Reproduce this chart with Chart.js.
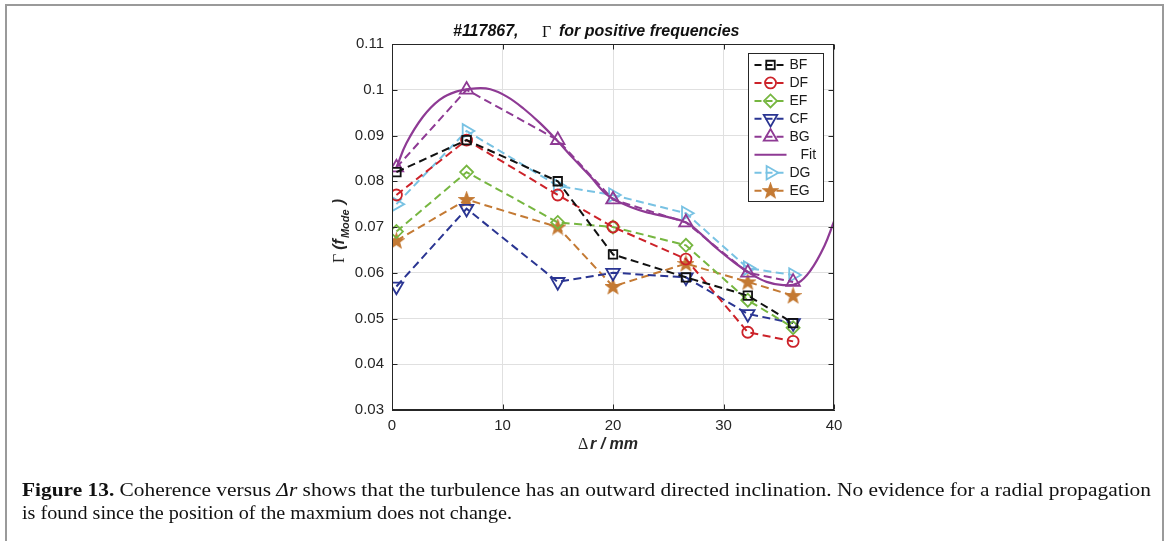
<!DOCTYPE html>
<html><head><meta charset="utf-8">
<script src="https://cdn.jsdelivr.net/npm/chart.js@4.4.1/dist/chart.umd.min.js"></script>
<style>
html,body{margin:0;padding:0;background:#fff;width:1165px;height:541px;overflow:hidden;}
#wrap{position:absolute;left:0;top:0;width:1165px;height:541px;}
#frame{position:absolute;left:5px;top:4px;width:1155px;height:600px;border:2px solid #9a9a9a;border-bottom:none;}
canvas{position:absolute;left:0;top:0;}
.cap{position:absolute;left:22px;font-family:"Liberation Serif","DejaVu Serif",serif;font-size:19px;color:#111;white-space:nowrap;transform-origin:0 0;line-height:20px;}
</style></head><body>
<div id="wrap">
<div id="frame"></div>
<canvas id="c" width="1165" height="541"></canvas>
<div class="cap" id="cap1" style="top:480px"><b>Figure 13.</b> Coherence versus <i>Δr</i> shows that the turbulence has an outward directed inclination. No evidence for a radial propagation</div>
<div class="cap" id="cap2" style="top:503px">is found since the position of the maxmium does not change.</div>
</div>
<script>
// ---- data ----
const dr = [0.4, 6.75, 15.0, 20.0, 26.6, 32.2, 36.3];
const BF = [0.082, 0.089, 0.080, 0.064, 0.059, 0.055, 0.049];
const DF = [0.077, 0.089, 0.077, 0.070, 0.063, 0.047, 0.045];
const EF = [0.069, 0.082, 0.071, 0.070, 0.066, 0.054, 0.048];
const CF = [0.057, 0.074, 0.058, 0.060, 0.059, 0.051, 0.049];
const BG = [0.083, 0.100, 0.089, 0.076, 0.071, 0.060, 0.058];
const DG = [0.075, 0.091, 0.079, 0.077, 0.073, 0.061, 0.0595];
const EG = [0.067, 0.076, 0.070, 0.057, 0.062, 0.058, 0.055];
const fitX = [0.4, 1.3, 2.8, 4.3, 5.8, 7.6, 8.9, 10.4, 11.9, 13.4, 14.9, 16.4, 17.9, 19.6, 21.9, 23.4, 24.9, 26.7, 27.9, 29.4, 30.9, 32.4, 33.9, 35.4, 36.7, 37.9, 39.1, 40.0];
const fitY = [0.0830, 0.0883, 0.0941, 0.0978, 0.0996, 0.1003, 0.1001, 0.0985, 0.0959, 0.0927, 0.0890, 0.0850, 0.0812, 0.0768, 0.0741, 0.0730, 0.0722, 0.0709, 0.0686, 0.0653, 0.0624, 0.0599, 0.0580, 0.0573, 0.0577, 0.0606, 0.0657, 0.0712];
const xTicks = [0, 10, 20, 30, 40];
const xTickLabels = ['0', '10', '20', '30', '40'];
const yTicks = [0.03, 0.04, 0.05, 0.06, 0.07, 0.08, 0.09, 0.10, 0.11];
const yTickLabels = ['0.03', '0.04', '0.05', '0.06', '0.07', '0.08', '0.09', '0.1', '0.11'];

// ---- caption fit ----
(function(){
  const c1=document.getElementById('cap1'), c2=document.getElementById('cap2');
  const w1=c1.getBoundingClientRect().width, w2=c2.getBoundingClientRect().width;
  c1.style.transform='scaleX('+((1151-22)/w1)+')';
  c2.style.transform='scaleX('+((512-22)/w2)+')';
})();

// ---- star marker ----
function makeStar(col){
  const cv=document.createElement('canvas'); cv.width=17; cv.height=17;
  const g=cv.getContext('2d');
  g.beginPath();
  for(let k=0;k<10;k++){
    const r = k%2===0 ? 7.8 : 3.2;
    const a = -Math.PI/2 + k*Math.PI/5;
    const px=8.5+r*Math.cos(a), py=9+r*Math.sin(a);
    if(k===0) g.moveTo(px,py); else g.lineTo(px,py);
  }
  g.closePath();
  g.fillStyle=col; g.fill();
  g.strokeStyle=col; g.lineWidth=1.2; g.stroke();
  return cv;
}

const pts = ys => dr.map((x,i)=>({x:x,y:ys[i]}));
const dash=[8,4.5];
function ser(label,ys,col,style,rot,rad){
  return {label:label,data:pts(ys),borderColor:col,backgroundColor:col,borderWidth:2,borderDash:dash,
    showLine:true,pointStyle:style,pointRotation:rot,pointRadius:rad,pointHoverRadius:rad,
    pointBorderColor:col,pointBackgroundColor:'rgba(0,0,0,0)',pointBorderWidth:1.8,tension:0};
}
const cEG='#c47a34';
const datasets=[
  ser('BF',BF,'#111111','rect',0,6),
  ser('DF',DF,'#cc2229','circle',0,5.5),
  ser('EF',EF,'#76b640','rectRot',0,6.5),
  ser('CF',CF,'#2a3592','triangle',180,7.8),
  ser('BG',BG,'#8e3a94','triangle',0,7.8),
  {label:'Fit',data:fitX.map((x,i)=>({x:x,y:fitY[i]})),borderColor:'#8e3a94',backgroundColor:'#8e3a94',borderWidth:2.2,
    showLine:true,pointRadius:0,pointHoverRadius:0,tension:0.4,cubicInterpolationMode:'default'},
  ser('DG',DG,'#78c2e3','triangle',90,7.8),
  ser('EG',EG,cEG,makeStar(cEG),0,8)
];

const AX='#262626';
const boxPlugin={
  id:'box',
  afterDraw(chart){
    const {ctx,chartArea:a,scales}=chart;
    ctx.save();
    ctx.strokeStyle=AX; ctx.lineWidth=1; ctx.setLineDash([]);
    const L=Math.round(a.left)+0.5, R=Math.round(a.right)-0.5, T=Math.round(a.top)+0.5, B=Math.round(a.bottom)-0.5;
    ctx.strokeRect(L,T,R-L,B-T);
    ctx.beginPath();
    xTicks.forEach(v=>{const p=Math.round(scales.x.getPixelForValue(v))+0.5; ctx.moveTo(p,B); ctx.lineTo(p,B-5); ctx.moveTo(p,T); ctx.lineTo(p,T+5);});
    yTicks.forEach(v=>{const p=Math.round(scales.y.getPixelForValue(v))+0.5; ctx.moveTo(L,p); ctx.lineTo(L+5,p); ctx.moveTo(R,p); ctx.lineTo(R-5,p);});
    ctx.stroke();
    ctx.restore();
  }
};
const legendPlugin={
  id:'mlegend',
  afterDraw(chart){
    const ctx=chart.ctx, a=chart.chartArea;
    const bx=Math.round(a.right)-85.5, by=Math.round(a.top)+9.5, bw=75, bh=148;
    ctx.save();
    ctx.fillStyle='#fff'; ctx.fillRect(bx,by,bw,bh);
    ctx.strokeStyle=AX; ctx.lineWidth=1; ctx.setLineDash([]); ctx.strokeRect(bx,by,bw,bh);
    chart.data.datasets.forEach((ds,i)=>{
      const y=by+11.5+i*17.95;
      ctx.strokeStyle=ds.borderColor; ctx.lineWidth=ds.borderWidth;
      ctx.setLineDash(ds.borderDash?[7,4]:[]);
      ctx.beginPath(); ctx.moveTo(bx+6,y); ctx.lineTo(bx+38,y); ctx.stroke();
      ctx.setLineDash([]);
      if(ds.pointRadius>0){
        ctx.lineWidth=ds.pointBorderWidth; ctx.fillStyle='rgba(0,0,0,0)';
        Chart.helpers.drawPoint(ctx,{pointStyle:ds.pointStyle,rotation:ds.pointRotation||0,radius:ds.pointRadius,borderWidth:ds.pointBorderWidth},bx+22,y);
      }
      ctx.fillStyle='#1a1a1a'; ctx.font='14px "Liberation Sans", Arial, sans-serif'; ctx.textBaseline='middle'; ctx.textAlign='left';
      ctx.fillText(ds.label, ds.label==='Fit'?bx+52:bx+41, y+0.5);
    });
    ctx.restore();
  }
};
const textPlugin={
  id:'texts',
  afterDraw(chart){
    const ctx=chart.ctx;
    ctx.save();
    ctx.fillStyle='#111'; ctx.textBaseline='middle'; ctx.textAlign='left';
    const BI='italic bold 16px "Liberation Sans", Arial, sans-serif';
    const SR='16px "Liberation Serif", "DejaVu Serif", serif';
    // title
    ctx.font=BI; ctx.fillText('#117867,',453,32);
    ctx.font=SR; ctx.fillText('Γ',542,33);
    ctx.font=BI; ctx.fillText('for positive frequencies',559,32);
    // x label
    ctx.fillStyle='#262626';
    ctx.font=SR; ctx.fillText('Δ',578,445);
    ctx.font=BI; ctx.fillText('r / mm',590,445);
    // y label
    ctx.translate(344,263); ctx.rotate(-Math.PI/2);
    ctx.textBaseline='alphabetic';
    let x=0;
    ctx.font=SR; ctx.fillText('Γ',x,0); x+=ctx.measureText('Γ ').width;
    ctx.font=BI; ctx.fillText('(f',x,0); x+=ctx.measureText('(f').width+1;
    ctx.font='italic bold 11px "Liberation Sans", Arial, sans-serif'; ctx.fillText('Mode',x,5); x+=ctx.measureText('Mode').width+5;
    ctx.font=BI; ctx.fillText(')',x,0);
    ctx.restore();
  }
};

new Chart(document.getElementById('c'),{
  type:'scatter',
  data:{datasets:datasets},
  options:{
    responsive:false, animation:false, devicePixelRatio:1,
    layout:{padding:{left:332,right:331,top:44,bottom:91}},
    plugins:{legend:{display:false},tooltip:{enabled:false},title:{display:false}},
    scales:{
      x:{type:'linear',min:0,max:40,
        afterBuildTicks:s=>{s.ticks=xTicks.map(v=>({value:v}));},
        afterFit:s=>{s.height=40;},
        ticks:{color:AX,font:{family:'"Liberation Sans", Arial, sans-serif',size:15},padding:7,maxRotation:0,
          callback:(v)=>xTickLabels[xTicks.indexOf(v)]},
        grid:{color:'#e0e0e0',drawTicks:false,lineWidth:1},
        border:{color:AX,width:1}},
      y:{type:'linear',min:0.03,max:0.11,
        afterBuildTicks:s=>{s.ticks=yTicks.map(v=>({value:v}));},
        afterFit:s=>{s.width=60;},
        ticks:{color:AX,font:{family:'"Liberation Sans", Arial, sans-serif',size:15},padding:8,
          callback:(v)=>{const i=yTicks.findIndex(t=>Math.abs(t-v)<1e-9);return i>=0?yTickLabels[i]:'';}},
        grid:{color:'#e0e0e0',drawTicks:false,lineWidth:1},
        border:{color:AX,width:1}}
    }
  },
  plugins:[boxPlugin,legendPlugin,textPlugin]
});
</script>
</body></html>
